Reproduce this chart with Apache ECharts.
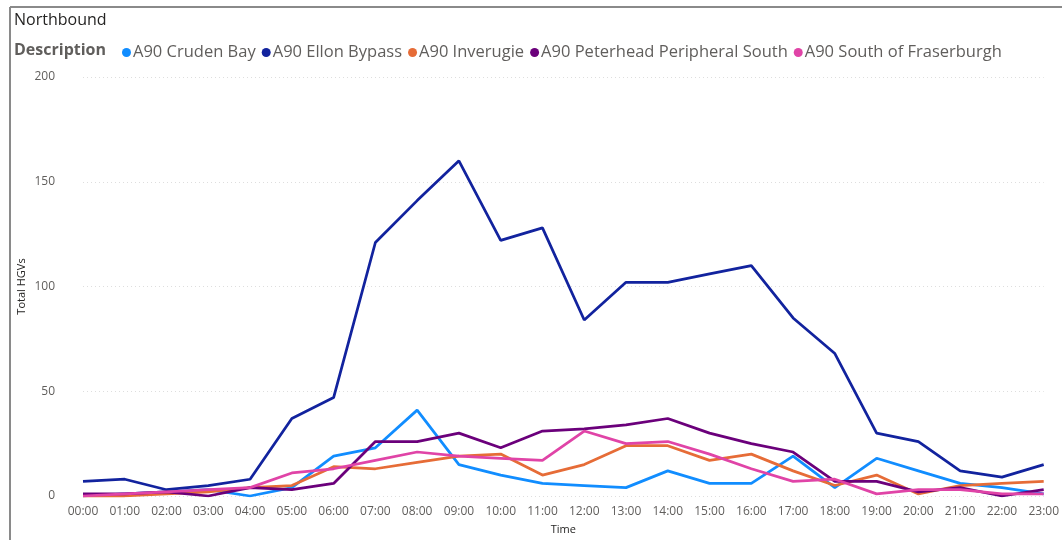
<!DOCTYPE html>
<html>
<head>
<meta charset="utf-8">
<script src="https://cdn.jsdelivr.net/npm/echarts@6/dist/echarts.min.js"></script>
<style>
html,body{margin:0;padding:0;background:#fff;}
#c{width:1062px;height:540px;}
</style>
</head>
<body>
<div id="c"></div>
<script>
const hours = ['00:00','01:00','02:00','03:00','04:00','05:00','06:00','07:00','08:00','09:00','10:00','11:00','12:00','13:00','14:00','15:00','16:00','17:00','18:00','19:00','20:00','21:00','22:00','23:00'];
const seriesNames = ['A90 Cruden Bay','A90 Ellon Bypass','A90 Inverugie','A90 Peterhead Peripheral South','A90 South of Fraserburgh'];
const crudenBay   = [0,1,2,3,0,4,19,23,41,15,10,6,5,4,12,6,6,19,4,18,12,6,4,1];
const ellonBypass = [7,8,3,5,8,37,47,121,141,160,122,128,84,102,102,106,110,85,68,30,26,12,9,15];
const inverugie   = [0,0,1,2,4,5,14,13,16,19,20,10,15,24,24,17,20,12,5,10,1,5,6,7];
const peterhead   = [1,1,2,0,4,3,6,26,26,30,23,31,32,34,37,30,25,21,7,7,2,4,0,3];
const fraserburgh = [0,1,2,3,4,11,13,17,21,19,18,17,31,25,26,20,13,7,8,1,3,3,1,1];
const yTicks = [0,50,100,150,200];
const colors = ['#118DFF','#12239E','#E66C37','#6B007B','#E044A7'];
const values = [crudenBay, ellonBypass, inverugie, peterhead, fraserburgh];

const FONT = '"Open Sans", "Noto Sans", sans-serif';
const chart = echarts.init(document.getElementById('c'));
chart.setOption({
  animation: false,
  color: colors,
  textStyle: {fontFamily: FONT},
  graphic: [
    {type:'line', shape:{x1:10,y1:7,x2:1062,y2:7}, style:{stroke:'#8a8a8a', lineWidth:2}},
    {type:'line', shape:{x1:10,y1:7,x2:10,y2:540}, style:{stroke:'#8a8a8a', lineWidth:2}},
    {type:'text', left:14, top:12, style:{text:'Northbound', fill:'#252423', font:'16px ' + FONT}},
    {type:'text', left:14, top:42, style:{text:'Description', fill:'#605E5C', font:'bold 16px ' + FONT}}
  ],
  legend: {
    left: 117, top: 39,
    icon: 'circle', itemWidth: 9, itemHeight: 9, itemGap: 6,
    textStyle: {color:'#605E5C', fontSize: 16.5, fontFamily: FONT, padding:[0,0,0,-3]},
    data: seriesNames
  },
  grid: {left: 83, right: 18, top: 77, bottom: 40, containLabel: false},
  xAxis: {
    type: 'category', data: hours, boundaryGap: false,
    name: 'Time', nameLocation: 'middle', nameGap: 28, nameMoveOverlap: false,
    nameTextStyle: {color:'#252423', fontSize: 11},
    axisLine: {show:false}, axisTick: {show:false},
    axisLabel: {color:'#605E5C', fontSize: 12, interval: 0, margin: 10}
  },
  yAxis: {
    type: 'value', min: yTicks[0], max: yTicks[yTicks.length-1], interval: 50,
    name: 'Total HGVs', nameLocation: 'middle', nameGap: 56, nameMoveOverlap: false,
    nameTextStyle: {color:'#252423', fontSize: 11},
    axisLine: {show:false}, axisTick: {show:false},
    axisLabel: {color:'#605E5C', fontSize: 12, margin: 28},
    splitLine: {lineStyle: {color:'#dedede', type:[1,3], width:1}}
  },
  series: seriesNames.map((n,i) => ({
    name: n, type: 'line', data: values[i], symbol: 'none',
    lineStyle: {width: 2.75}
  }))
});
</script>
</body>
</html>
